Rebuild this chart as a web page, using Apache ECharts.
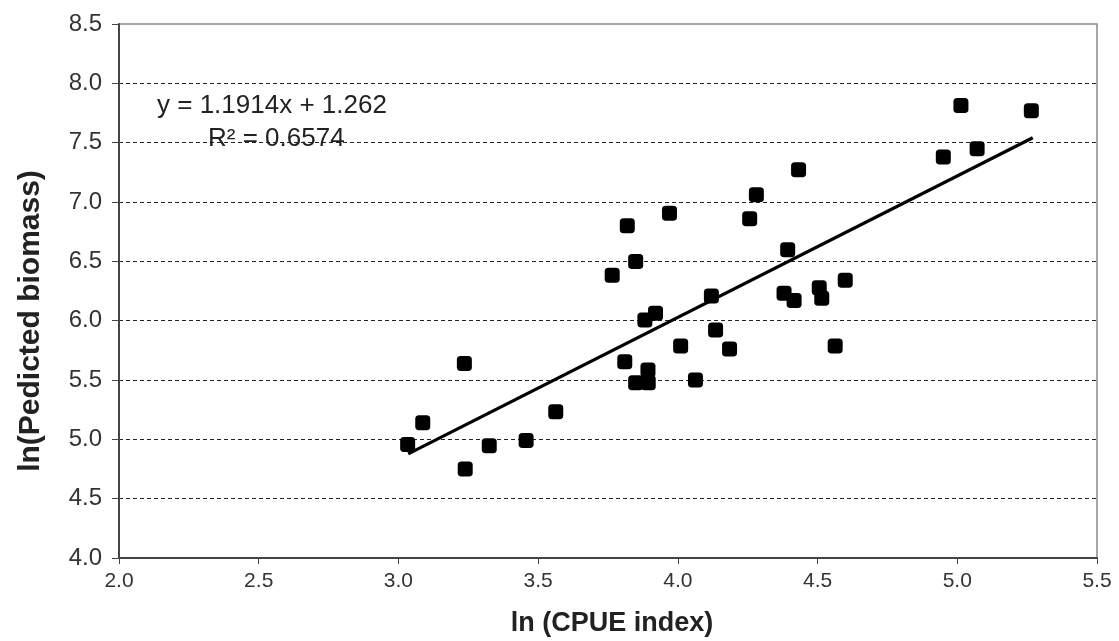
<!DOCTYPE html>
<html>
<head>
<meta charset="utf-8">
<style>
  html, body { margin: 0; padding: 0; background: #fff; }
  #chart { width: 1119px; height: 641px; }
</style>
<script src="https://cdn.jsdelivr.net/npm/echarts@6/dist/echarts.min.js"></script>
</head>
<body>
<div id="chart"></div>
<script>
// ln(CPUE index) for each sample
var cpueLn = [
  3.033, 3.087, 3.236, 3.239, 3.325, 3.457, 3.563,
  3.765, 3.819, 3.849, 3.970, 3.810, 3.849, 3.894, 3.893, 3.882, 3.920,
  4.010, 4.063, 4.120, 4.135, 4.185,
  4.257, 4.281, 4.432, 4.393, 4.380, 4.416, 4.506, 4.515, 4.599, 4.563,
  4.950, 5.013, 5.071, 5.265
];
// ln(predicted biomass) for each sample
var biomassLn = [
  4.957, 5.139, 5.640, 4.749, 4.945, 4.991, 5.232,
  6.383, 6.799, 6.498, 6.906, 5.654, 5.477, 5.477, 5.584, 6.006, 6.062,
  5.787, 5.500, 6.208, 5.922, 5.761,
  6.858, 7.061, 7.272, 6.597, 6.231, 6.169, 6.278, 6.189, 6.340, 5.787,
  7.379, 7.814, 7.449, 7.770
];
// linear trend line ends
var trendX = [3.035, 5.27];
var trendY = [4.878, 7.541];
var equationText = ['y = 1.1914x + 1.262', 'R\u00b2 = 0.6574'];
var xTitle = 'ln (CPUE index)';
var yTitle = 'ln(Pedicted biomass)';

var font = '"Liberation Sans", Arial, sans-serif';

var points = [];
for (var i = 0; i < cpueLn.length; i++) {
  points.push([cpueLn[i], biomassLn[i]]);
}
var trend = [];
for (var j = 0; j < trendX.length; j++) {
  trend.push([trendX[j], trendY[j]]);
}

var myChart = echarts.init(document.getElementById('chart'));
var option = {
  backgroundColor: '#fff',
  animation: false,
  grid: {
    left: 119, right: 22, top: 24, bottom: 83,
    show: true, borderColor: '#8a8a8a', borderWidth: 1.5
  },
  xAxis: {
    type: 'value', min: 2, max: 5.5, interval: 0.5,
    axisLine: { show: true, onZero: false, lineStyle: { color: '#444', width: 2 } },
    axisTick: { show: true, length: 6, lineStyle: { color: '#444', width: 1 } },
    axisLabel: {
      margin: 13, fontFamily: font, fontSize: 21, color: '#333',
      formatter: function (v) { return v.toFixed(1); }
    },
    splitLine: { show: false }
  },
  yAxis: {
    type: 'value', min: 4, max: 8.5, interval: 0.5,
    axisLine: { show: true, onZero: false, lineStyle: { color: '#444', width: 2 } },
    axisTick: { show: true, length: 7, lineStyle: { color: '#444', width: 1 } },
    axisLabel: {
      margin: 17, fontFamily: font, fontSize: 24, color: '#333',
      formatter: function (v) { return v.toFixed(1); }
    },
    splitLine: {
      show: true, showMinLine: false, showMaxLine: false,
      lineStyle: { color: '#222', width: 1, type: [4, 3] }
    }
  },
  graphic: [{
    type: 'text', x: 157, y: 106,
    style: { text: equationText[0], font: '26px ' + font, fill: '#222', verticalAlign: 'middle' }
  }, {
    type: 'text', x: 208, y: 139,
    style: { text: equationText[1], font: '26px ' + font, fill: '#222', verticalAlign: 'middle' }
  }, {
    type: 'text', x: 612, y: 624,
    style: { text: xTitle, font: 'bold 27px ' + font, fill: '#222', align: 'center', verticalAlign: 'middle' }
  }, {
    type: 'text', x: 31, y: 321, rotation: Math.PI / 2,
    style: { text: yTitle, font: 'bold 30px ' + font, fill: '#222', align: 'center', verticalAlign: 'middle' }
  }],
  series: [{
    name: 'trend', type: 'line', data: trend, symbol: 'none', z: 3,
    lineStyle: { color: '#000', width: 3.2 }
  }, {
    name: 'samples', type: 'scatter', data: points, z: 4,
    symbol: 'roundRect', symbolSize: 15,
    itemStyle: { color: '#000', opacity: 1 }
  }]
};
myChart.setOption(option);
</script>
</body>
</html>
